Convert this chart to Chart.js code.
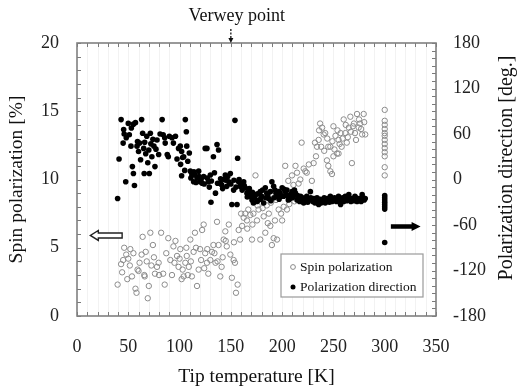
<!DOCTYPE html>
<html>
<head>
<meta charset="utf-8">
<script src="https://cdn.jsdelivr.net/npm/chart.js@4/dist/chart.umd.min.js"></script>
<style>
  body { margin: 0; background: #fff; }
  #wrap { width: 519px; height: 392px; }
</style>
</head>
<body>
<div id="wrap"><canvas id="myChart" width="519" height="392"></canvas></div>
<script>
// spin polarization [%] vs tip temperature [K] (open circles, left axis)
const spinTemp = [39.6,43,44,46,48,49,50,51.5,53.6,55,57,58,59,61,63,64,65.6,67,69,70,71.5,72.5,74,75,76,78,79.6,82,84,85.5,
  87,89,91,92.6,94,96,97.5,99,100.7,102,104,105.6,106.6,107,109,110.5,112,113.7,115,117,118.6,120,122,123.5,125,126.7,128,130,131.6,133,
  135,136.5,138,139.7,141,143,144.6,146,148,149.5,151,152.7,154,155,156.6,157.6,159,161,162.5,164,165.7,167,169,170.6,172,174,175.5,177,178.7,180,
  182,183.6,185,187,188.5,190,191.7,193,195,196.6,198,200,201.5,203,204.7,206,208,209.6,211,213,214.5,217.7,219,221,222.6,226,229,230.7,232,234,
  235.6,237,239,240.5,241,242,243.7,245,247,248.6,245,250,252,253.5,255,257,258,260,261.6,263,265,266.5,268,270,271,273,274.6,276,278,279.5,281,247,250,255,
  45,52,60,66,68,80,95,100,103,108,111,116,121,124,127,134,137,142,145,153,160,166,171,176,181,186,189,194,199,207,212,216,224,233,236,238,244,249,251,254,
  256,259,262,264,267,269,272,275,277,280,
  300,300,300,300,300,300,300,300,300,300,300,300,300];
const spinVals = [2.3,3.8,3.2,5.0,4.5,2.7,4.2,3.7,2.9,4.6,2.0,1.7,3.4,3.9,4.5,5.8,3.0,4.7,1.3,2.2,6.1,3.7,5.2,4.3,3.1,3.6,3.9,6.1,3.1,2.3,
  4.6,5.7,4.1,3.0,5.1,5.5,4.4,3.6,4.9,2.7,2.9,3.9,5.0,4.4,3.6,5.6,2.9,4.7,6.1,2.2,3.4,4.9,6.3,6.7,4.6,3.9,3.1,4.1,4.7,5.2,
  3.9,6.9,5.2,2.9,3.6,5.6,6.2,5.1,6.7,4.5,2.8,4.1,3.9,1.7,2.3,6.3,5.6,6.6,7.2,7.5,7.0,7.8,7.4,5.6,7.5,10.3,7.0,7.8,5.6,8.6,
  7.3,6.1,8.1,7.5,6.6,5.2,5.7,7.0,5.6,7.8,8.8,7.0,8.0,11.0,7.8,9.9,8.8,10.3,9.6,11.0,10.5,10.0,12.7,10.8,10.6,11.1,9.9,11.2,12.7,12.4,
  12.9,14.1,13.8,13.3,12.1,13.4,11.4,11.0,10.6,10.4,12.4,13.9,13.2,11.9,12.9,13.4,12.4,14.4,13.4,12.7,13.8,14.6,11.2,14.1,13.4,14.8,13.8,14.1,13.3,14.8,13.3,12.4,11.7,11.9,
  4.1,4.9,3.3,2.9,4.0,3.0,3.9,4.2,3.4,3.0,4.0,5.0,4.1,3.5,4.9,4.6,4.0,4.3,5.5,5.4,7.5,6.4,6.7,8.1,7.9,6.8,8.3,8.5,7.5,8.2,8.4,9.7,10.5,11.7,13.6,12.4,13.0,12.8,12.2,13.6,
  12.6,13.0,14.0,13.1,13.5,13.9,12.9,14.4,13.7,14.2,
  15.1,14.3,14.0,13.7,13.4,13.2,12.9,12.6,12.3,12.0,11.7,10.9,10.3];

// polarization direction [deg.] vs tip temperature [K] (filled dots, right axis)
const dirTemp = [39.6,43,41,45.5,46,45,47.5,50,51,52.6,54,55,55,56,57,58.5,60,62,63,64,65,65.5,67,68,69,70.5,71.5,73,75,76,
  78,79.6,83,84,85.5,88,89,90,92.6,96,97.5,100.7,102,104,105.6,106.6,107,108,109.5,102,110.5,112,113.7,115,117,118.6,120,122,123.5,125,
  126.7,128,130,130.6,133,135,136.5,138,139.7,141,143,144.6,146,148,149.5,151,152.7,154,156,156.6,157.6,159,162.5,164,165.7,167,169,170.6,172,174,
  175.5,177,178.7,180,182,183.6,185,187,188.5,190,191.7,193,195,196.6,198,200,201.5,203,204.7,206,208,209.6,211,213,214.5,216,219,222.6,226,227.5,
  229,232,235.6,239,242,245,247,248.6,252,255,257,258,261.6,265,268,271,274.6,278,281,
  48,53,59,61,66,70,72,74,77,81,86,94,99,101,103,105,111,114,116,119,121,124,127,129,131,134,137,140,142,145,147,150,153,155,158,160,161,163,166,168,
  171,173,176,179,181,184,186,189,192,194,197,199,202,205,207,210,212,215,217,218,220,221,223,224,225,228,230,231,233,234,236,237,238,240,241,243,244,246,249,250,
  251,253,254,256,259,260,262,263,264,266,267,269,270,272,273,275,276,277,279,280,
  300,300,300,300,300,300,300,300];
const dirVals = [-25,79,27,66,60,48,-3,74,59,44,17,8,73,-8,75,44,37,26,79,61,41,8,34,57,22,8,61,30,44,17,
  52,33,79,59,55,33,30,57,55,57,27,44,37,30,79,63,44,24,35,5,11,6,-3,6,2,11,-3,-5,4,41,
  41,-3,6,-30,30,-18,46,39,-5,-7,0,6,-9,-3,8,-33,-14,78,-33,28,-3,-9,-3,-11,-18,-16,-22,-27,-31,-20,
  -29,-27,-16,-22,-31,-11,-18,-25,-16,-3,-9,-14,-22,-16,-18,-11,-22,-16,-14,-27,-20,-16,-22,-18,-27,-25,-27,-29,-25,-16,
  -27,-31,-33,-29,-31,-27,-22,-29,-25,-22,-33,-27,-22,-20,-25,-22,-27,-20,-25,
  55,68,50,48,49,39,47,53,40,60,48,48,41,20,29,12,2,10,-4,4,0,-6,2,-10,-2,9,-5,1,-12,-1,4,-6,-1,-10,0,-6,-14,-8,-23,-12,
  -17,-24,-19,-26,-14,-24,-20,-28,-24,-18,-26,-22,-13,-21,-26,-24,-14,-21,-29,-22,-24,-31,-26,-22,-30,-24,-29,-25,-28,-24,-29,-26,-31,-27,-24,-28,-25,-30,-26,-28,
  -24,-29,-26,-28,-24,-29,-26,-28,-24,-27,-29,-26,-28,-24,-29,-25,-27,-29,-24,-27,
  -21,-24,-27,-30,-33,-36,-39,-83];

const xTicks = [0, 50, 100, 150, 200, 250, 300, 350];
const serif = '"Liberation Serif", "DejaVu Serif", serif';

const spinPoints = spinTemp.map((t, i) => ({ x: t, y: spinVals[i] }));
const dirPoints = dirTemp.map((t, i) => ({ x: t, y: dirVals[i] }));

function arrow(ctx, x0, x1, y, head, shaft, hw, filled) {
  // arrow pointing from x0 toward x1
  const dir = Math.sign(x1 - x0);
  const hx = x1 - dir * head;
  ctx.beginPath();
  ctx.moveTo(x0, y - shaft / 2);
  ctx.lineTo(hx, y - shaft / 2);
  ctx.lineTo(hx, y - hw / 2);
  ctx.lineTo(x1, y);
  ctx.lineTo(hx, y + hw / 2);
  ctx.lineTo(hx, y + shaft / 2);
  ctx.lineTo(x0, y + shaft / 2);
  ctx.closePath();
  if (filled) { ctx.fillStyle = '#000'; ctx.fill(); }
  else { ctx.fillStyle = '#fff'; ctx.fill(); ctx.strokeStyle = '#222'; ctx.lineWidth = 1.4; ctx.stroke(); }
}

const decorPlugin = {
  id: 'decor',
  beforeDatasetsDraw(chart) {
    const { ctx, chartArea: a, scales } = chart;
    const xs = scales.x, ys = scales.y, y2 = scales.y2;
    ctx.save();
    // faint vertical grid every 10 K
    ctx.strokeStyle = 'rgba(0,0,0,0.05)';
    ctx.lineWidth = 1;
    ctx.beginPath();
    for (let v = 10; v < 350; v += 10) {
      const px = Math.round(xs.getPixelForValue(v)) + 0.5;
      ctx.moveTo(px, a.top); ctx.lineTo(px, a.bottom);
    }
    ctx.stroke();
    ctx.strokeStyle = '#7a7a7a';
    ctx.beginPath();
    for (let v = 0; v <= 350; v += 10) {
      const px = Math.round(xs.getPixelForValue(v)) + 0.5;
      ctx.moveTo(px, a.bottom); ctx.lineTo(px, a.bottom - 4);
      ctx.moveTo(px, a.top); ctx.lineTo(px, a.top + 4);
    }
    for (let v = 0; v <= 20; v += 1) {
      const py = Math.round(ys.getPixelForValue(v)) + 0.5;
      ctx.moveTo(a.left, py); ctx.lineTo(a.left + 4, py);
    }
    for (let v = -180; v <= 180; v += 10) {
      const py = Math.round(y2.getPixelForValue(v)) + 0.5;
      ctx.moveTo(a.right, py); ctx.lineTo(a.right - 4, py);
    }
    ctx.stroke();
    ctx.lineWidth = 1.6;
    ctx.strokeStyle = '#808080';
    ctx.strokeRect(a.left, a.top, a.right - a.left, a.bottom - a.top);
    ctx.restore();
  },
  afterDraw(chart) {
    const { ctx, chartArea: a, scales } = chart;
    const xs = scales.x, ys = scales.y, y2 = scales.y2;
    ctx.save();

    // right axis title, reading bottom to top
    ctx.font = '20px ' + serif;
    ctx.fillStyle = '#111';
    ctx.textAlign = 'center';
    ctx.textBaseline = 'middle';
    ctx.translate(507, 168);
    ctx.rotate(-Math.PI / 2);
    ctx.fillText('Polarization direction [deg.]', 0, 0);
    ctx.setTransform(1, 0, 0, 1, 0, 0);

    // Verwey point marker
    const vx = xs.getPixelForValue(150);
    ctx.font = '18px ' + serif;
    ctx.fillStyle = '#111';
    ctx.textAlign = 'center';
    ctx.textBaseline = 'alphabetic';
    ctx.fillText('Verwey point', vx + 6, 21);
    ctx.strokeStyle = '#111';
    ctx.lineWidth = 1.3;
    ctx.setLineDash([2, 1.5]);
    ctx.beginPath();
    ctx.moveTo(vx, 29); ctx.lineTo(vx, a.top - 4);
    ctx.stroke();
    ctx.setLineDash([]);
    ctx.beginPath();
    ctx.moveTo(vx - 2.5, a.top - 5); ctx.lineTo(vx + 2.5, a.top - 5); ctx.lineTo(vx, a.top);
    ctx.closePath();
    ctx.fillStyle = '#111';
    ctx.fill();

    // axis pointers
    arrow(ctx, xs.getPixelForValue(44), xs.getPixelForValue(13), ys.getPixelForValue(5.9), 8, 5, 10, false);
    arrow(ctx, xs.getPixelForValue(306), xs.getPixelForValue(335), y2.getPixelForValue(-62), 9, 4.5, 9, true);

    // legend box
    const lx = a.right - 155, ly = a.bottom - 62, lw = 142, lh = 43;
    ctx.fillStyle = '#fff';
    ctx.fillRect(lx, ly, lw, lh);
    ctx.strokeStyle = '#9a9a9a';
    ctx.lineWidth = 1.2;
    ctx.strokeRect(lx, ly, lw, lh);
    ctx.font = '13.5px ' + serif;
    ctx.fillStyle = '#111';
    ctx.textAlign = 'left';
    ctx.textBaseline = 'middle';
    ctx.beginPath();
    ctx.arc(lx + 12, ly + 13, 2.4, 0, Math.PI * 2);
    ctx.strokeStyle = '#8a8a8a';
    ctx.lineWidth = 1;
    ctx.stroke();
    ctx.fillText('Spin polarization', lx + 19, ly + 13);
    ctx.beginPath();
    ctx.arc(lx + 12, ly + 33, 2.5, 0, Math.PI * 2);
    ctx.fillStyle = '#000';
    ctx.fill();
    ctx.fillStyle = '#111';
    ctx.fillText('Polarization direction', lx + 19, ly + 33);
    ctx.restore();
  }
};

const ctx = document.getElementById('myChart').getContext('2d');
new Chart(ctx, {
  type: 'scatter',
  data: {
    datasets: [
      {
        label: 'Spin polarization',
        data: spinPoints,
        yAxisID: 'y',
        order: 2,
        pointStyle: 'circle',
        pointRadius: 2.7,
        pointBorderWidth: 1,
        pointBorderColor: '#8c8c8c',
        pointBackgroundColor: 'rgba(255,255,255,0)'
      },
      {
        label: 'Polarization direction',
        data: dirPoints,
        yAxisID: 'y2',
        order: 1,
        pointStyle: 'circle',
        pointRadius: 2.8,
        pointBorderWidth: 0,
        pointBackgroundColor: '#000'
      }
    ]
  },
  options: {
    responsive: false,
    animation: false,
    devicePixelRatio: 1,
    layout: { padding: { top: 43, left: 0, right: 0, bottom: 0 } },
    plugins: { legend: { display: false }, tooltip: { enabled: false } },
    scales: {
      x: {
        type: 'linear', min: 0, max: 350,
        afterBuildTicks: (s) => { s.ticks = xTicks.map(v => ({ value: v })); },
        afterFit: (s) => { s.height = 76; },
        ticks: { padding: 20, color: '#222', font: { family: serif, size: 18 } },
        grid: { display: false, drawTicks: false },
        border: { display: false },
        title: { display: true, text: 'Tip temperature [K]', color: '#111',
                 font: { family: serif, size: 19.5 }, padding: { top: 0, bottom: 3 } }
      },
      y: {
        position: 'left', min: 0, max: 20,
        afterFit: (s) => { s.width = 77; },
        ticks: { stepSize: 5, padding: 18, color: '#222', font: { family: serif, size: 18 } },
        grid: { display: false, drawTicks: false },
        border: { display: false },
        title: { display: true, text: 'Spin polarization [%]', color: '#111',
                 font: { family: serif, size: 19.5 }, padding: { top: 5, bottom: 0 } }
      },
      y2: {
        position: 'right', min: -180, max: 180,
        afterFit: (s) => { s.width = 83; },
        ticks: { stepSize: 60, padding: 17, color: '#222', font: { family: serif, size: 18 } },
        grid: { display: false, drawTicks: false },
        border: { display: false }
      }
    }
  },
  plugins: [decorPlugin]
});
</script>
</body>
</html>
